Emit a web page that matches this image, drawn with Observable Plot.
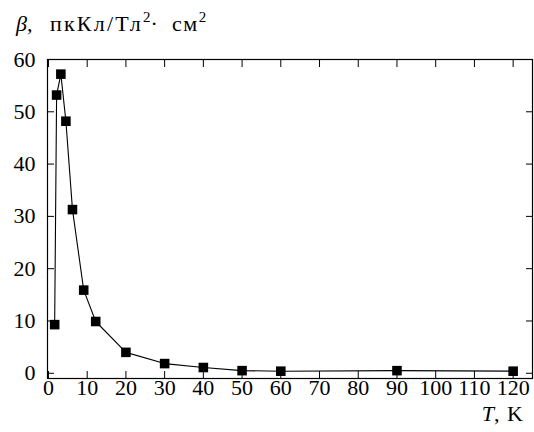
<!DOCTYPE html>
<html>
<head>
<meta charset="utf-8">
<script src="https://cdn.jsdelivr.net/npm/d3@7"></script>
<script src="https://cdn.jsdelivr.net/npm/@observablehq/plot@0.6"></script>
<style>
  html, body { margin: 0; padding: 0; background: #fff; }
  #chart svg { display: block; }
</style>
</head>
<body>
<div id="chart"></div>
<script>
// Temperature T, K
const temperature = [1.6, 2.1, 3.2, 4.5, 6.2, 9.1, 12.2, 20, 30, 40, 50, 60, 90, 120];
// beta, pC/(T^2 cm^2)
const beta = [9.3, 53.2, 57.2, 48.2, 31.3, 15.9, 9.9, 4.0, 1.85, 1.1, 0.5, 0.4, 0.5, 0.4];
const xTicks = [0, 10, 20, 30, 40, 50, 60, 70, 80, 90, 100, 110, 120];
const yTicks = [0, 10, 20, 30, 40, 50, 60];

const data = temperature.map((t, i) => ({T: t, b: beta[i]}));
const font = "Liberation Serif";
const blank = () => "";

const plot = Plot.plot({
  width: 534,
  height: 432,
  marginTop: 59,
  marginBottom: 54,
  marginLeft: 47,
  marginRight: 2,
  style: "font-family: 'Liberation Serif', serif; font-size: 22px; color: #000; background: #fff;",
  x: {domain: [-0.25, 125], ticks: xTicks},
  y: {domain: [-1, 60], ticks: yTicks},
  marks: [
    // inward ticks on all four sides
    Plot.axisX(xTicks, {anchor: "bottom", tickSize: -7, tickFormat: blank, label: null, strokeWidth: 1}),
    Plot.axisX(xTicks, {anchor: "top", tickSize: -7, tickFormat: blank, label: null, strokeWidth: 1}),
    Plot.axisY(yTicks, {anchor: "left", tickSize: -7, tickFormat: blank, label: null, strokeWidth: 1}),
    Plot.axisY(yTicks, {anchor: "right", tickSize: -7, tickFormat: blank, label: null, strokeWidth: 1}),
    // tick labels
    Plot.axisX(xTicks, {anchor: "bottom", tickSize: 0, tickPadding: 1, label: null, fontSize: 22, fontFamily: font}),
    Plot.axisY(yTicks, {anchor: "left", tickSize: 0, tickPadding: 12, label: null, fontSize: 22, fontFamily: font}),
    Plot.frame({stroke: "#000", strokeWidth: 1.2}),
    Plot.line(data, {x: "T", y: "b", stroke: "#000", strokeWidth: 1.1}),
    Plot.dot(data, {x: "T", y: "b", symbol: "square", r: 5.4, fill: "#000", stroke: "none"})
  ]
});

const svg = d3.select(plot);
// y-axis title
const yt = svg.append("text")
  .attr("x", 16).attr("y", 31).attr("text-anchor", "start")
  .attr("font-size", 22).attr("fill", "#000");
yt.append("tspan").attr("font-style", "italic").text("β,");
yt.append("tspan").attr("x", 50).style("letter-spacing", "2.2px").text("пкКл/Тл");
yt.append("tspan").attr("font-size", 15).attr("dy", -9).text("2");
yt.append("tspan").attr("dy", 9).text("·");
yt.append("tspan").attr("x", 172).style("letter-spacing", "1.5px").text("см");
yt.append("tspan").attr("font-size", 15).attr("dy", -9).text("2");
// x-axis title
const xt = svg.append("text")
  .attr("x", 524).attr("y", 421).attr("text-anchor", "end")
  .attr("font-size", 22).attr("fill", "#000");
xt.append("tspan").attr("font-style", "italic").text("T");
xt.append("tspan").style("letter-spacing", "1px").text(", K");

svg.selectAll("text")
  .attr("font-family", font)
  .style("font-family", "'Liberation Serif', serif");

document.getElementById("chart").appendChild(plot);
</script>
</body>
</html>
